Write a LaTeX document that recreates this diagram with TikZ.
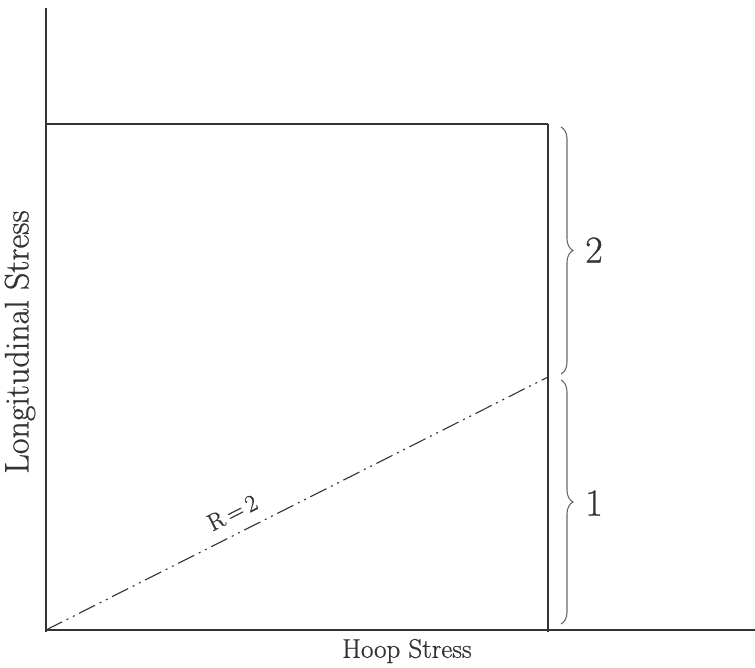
\documentclass[tikz,border=0pt]{standalone}
\usepackage{fontspec}
\newfontfamily\lblfont{Latin Modern Roman}[FakeBold=0.7]
\usetikzlibrary{decorations.pathreplacing}
\definecolor{ink}{HTML}{333333}
\definecolor{braceink}{HTML}{6A6A6A}
\tikzset{
  axisline/.style={draw=ink,line width=1.8pt},
  boxline/.style={draw=ink,line width=2.2pt},
  sideline/.style={draw=ink,line width=2.8pt},
  ratioline/.style={draw=ink,line width=1.1pt,dash pattern=on 18pt off 5pt on 2pt off 5pt on 2pt off 5pt},
  bracestyle/.style={draw=braceink,line width=1.1pt,decorate,decoration={brace,amplitude=12pt}},
  hooplabel/.style={text=ink,font=\lblfont\fontsize{27}{31}\selectfont,inner sep=0pt},
  longlabel/.style={text=ink,font=\lblfont\fontsize{34}{38}\selectfont,inner sep=0pt},
  zonelabel/.style={text=ink,font=\lblfont\fontsize{38}{42}\selectfont,inner sep=0pt},
  ratiolabel/.style={text=ink,font=\lblfont\fontsize{24}{28}\selectfont,inner sep=0pt},
}
\begin{document}
\begin{tikzpicture}[x=1pt,y=-1pt]
\useasboundingbox (0,0) rectangle (755,668);
\coordinate (ytop) at (46,8);
\coordinate (origin) at (46,630);
\coordinate (ybot) at (46,632);
\coordinate (xend) at (755,630);
\coordinate (boxtl) at (46,124);
\coordinate (boxtr) at (548,124);
\coordinate (boxbr) at (548,632);
\coordinate (rpt) at (548,377);
\coordinate (b2top) at (561,127);
\coordinate (b2bot) at (561,374);
\coordinate (b1top) at (561,380);
\coordinate (b1bot) at (561,624);
\draw[axisline] (ytop) -- (ybot);
\draw[axisline] (origin) -- (xend);
\draw[boxline] (boxtl) -- (boxtr);
\draw[sideline] (boxtr) -- (boxbr);
\draw[ratioline] (origin) -- node[pos=0.39,sloped,above=12pt,ratiolabel] (rlabel) {R\,=\,2} (rpt);
\draw[bracestyle] (b2top) -- (b2bot);
\draw[bracestyle] (b1top) -- (b1bot);
\node[zonelabel] (two) at (594,250) {2};
\node[zonelabel] (one) at (594,503) {1};
\node[hooplabel] (hoop) at (407,651) {Hoop Stress};
\node[longlabel,rotate=90] (longi) at (20,342) {Longitudinal Stress};
\end{tikzpicture}
\end{document}
